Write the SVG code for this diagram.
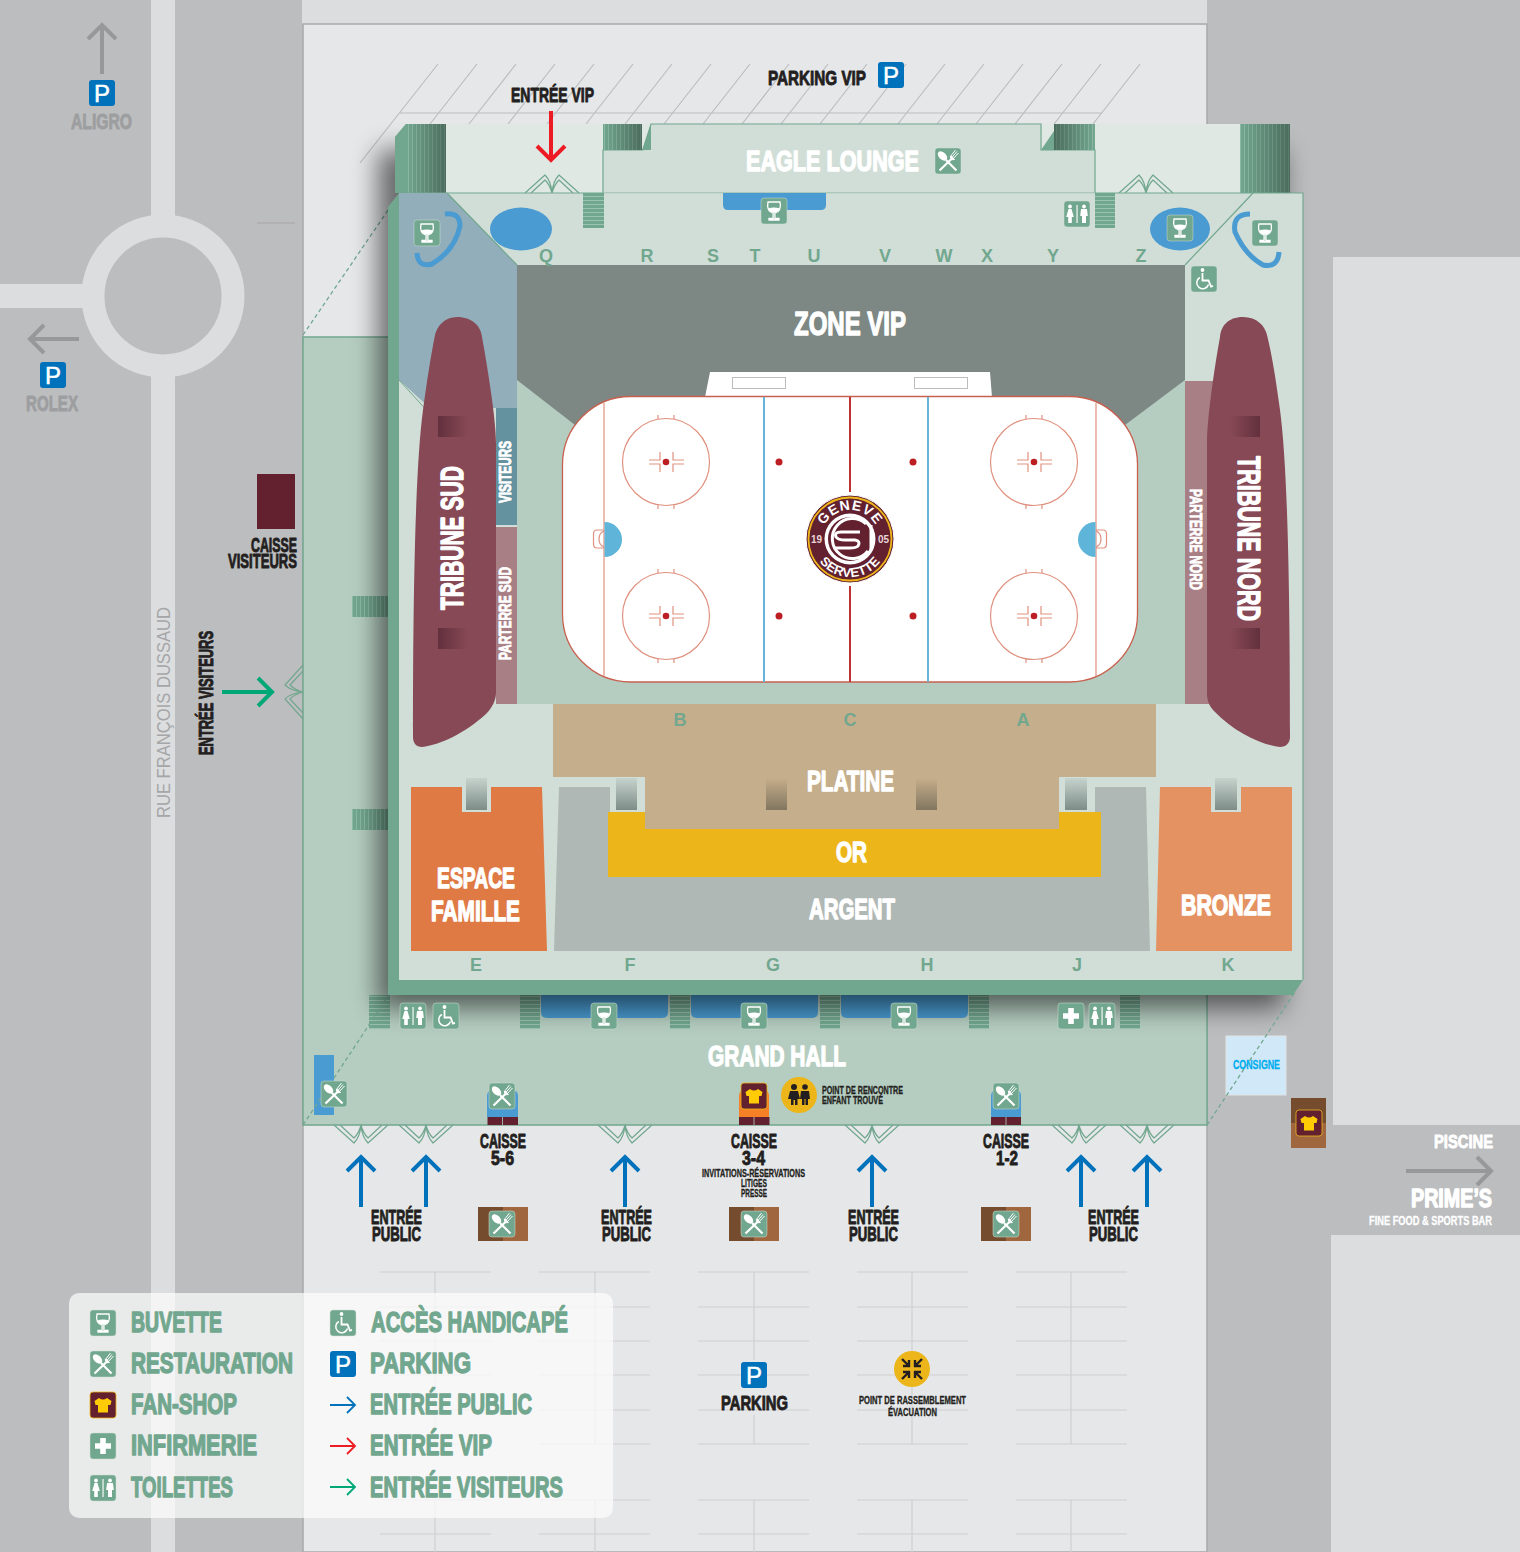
<svg xmlns="http://www.w3.org/2000/svg" width="1520" height="1552" viewBox="0 0 1520 1552">
<style>
.t{font-family:"Liberation Sans Narrow","Liberation Sans",Arial,sans-serif;font-weight:700;stroke-width:.9px;stroke-linejoin:round}
.t[font-size="26"],.t[font-size="29"],.t[font-size="30"],.t[font-size="31"],.t[font-size="33"]{stroke-width:1.4px}
.w{fill:#fff;stroke:#fff}
.k{fill:#231f20;stroke:#231f20}
.g{fill:#72a78f;stroke:#72a78f}
.y{fill:#9d9ea0;stroke:#9d9ea0}
.l{font-family:"Liberation Sans",Arial,sans-serif;font-weight:700;font-size:18px;fill:#72a78f}
.d{fill:none;stroke:#72a78f;stroke-width:1.2;stroke-linejoin:round}
.pk{fill:none;stroke:#cfd0d2;stroke-width:1.2}
.ar{fill:none;stroke-width:4}
.tick{fill:none;stroke:#e0917f;stroke-width:1.2}
.ib{fill:#72a78f;stroke:#d1ded7;stroke-width:.5}
</style>
<defs>
<filter id="sh" x="-10%" y="-10%" width="120%" height="120%"><feGaussianBlur stdDeviation="13"/></filter>
<linearGradient id="gd" x1="0" y1="0" x2="0" y2="1"><stop offset="0" stop-color="#c6d3cd"/><stop offset="1" stop-color="#7e8c88"/></linearGradient>
<linearGradient id="gp" x1="0" y1="0" x2="0" y2="1"><stop offset="0" stop-color="#c5ae8b"/><stop offset="1" stop-color="#827660"/></linearGradient>
<linearGradient id="gl" x1="0" y1="0" x2="1" y2="0"><stop offset="0" stop-color="#63303d"/><stop offset="1" stop-color="#874955"/></linearGradient>
<linearGradient id="gr" x1="0" y1="0" x2="1" y2="0"><stop offset="0" stop-color="#874955"/><stop offset="1" stop-color="#63303d"/></linearGradient>
<linearGradient id="gs" x1="0" y1="0" x2="1" y2="0"><stop offset="0" stop-color="#000" stop-opacity="0"/><stop offset="1" stop-color="#000" stop-opacity=".35"/></linearGradient>
<linearGradient id="gs2" x1="1" y1="0" x2="0" y2="0"><stop offset="0" stop-color="#000" stop-opacity="0"/><stop offset="1" stop-color="#000" stop-opacity=".35"/></linearGradient>
<pattern id="sv" width="4" height="4" patternUnits="userSpaceOnUse"><rect width="4" height="4" fill="#72a78f"/><rect width="1" height="4" fill="#8dbaa5"/></pattern>
<pattern id="sh2" width="4" height="4" patternUnits="userSpaceOnUse"><rect width="4" height="4" fill="#72a78f"/><rect width="4" height="1" fill="#9cc2b0"/></pattern>
<path id="door" d="M-27,0L-7,-18Q-1,-12 0,0Q1,-12 7,-18L27,0M-21,0L-7,-13Q-2,-8 0,0Q2,-8 7,-13L21,0"/>
<g id="i-b"><rect class="ib" x="-13" y="-13" width="26" height="26" rx="3"/><path d="M-6,-9H6C7.500,-2.500 5,1.500 .9,2V7.500H5V9H-5V7.500H-.9V2C-5,1.500 -7.500,-2.500 -6,-9Z" fill="none" stroke="#fff" stroke-width="1.300"/><path d="M-6,-2.500Q0,-4.500 6,-2.500Q5,1 0,1.800Q-5,1 -6,-2.500Z" fill="#fff"/></g>
<g id="i-r"><rect class="ib" x="-13" y="-13" width="26" height="26" rx="3"/><path d="M-8.500,9.500L5,-3.500M8.500,9.500L-2,-1" stroke="#fff" stroke-width="2.200" fill="none"/><ellipse cx="-5.500" cy="-5" rx="3.600" ry="5.600" transform="rotate(-45 -5.500 -5)" fill="#fff"/><path d="M3,-2.500L9,-9.500M4.500,-1.500L10.500,-8M2,-4L7.500,-11M6.500,-1.500Q4,-.5 2.500,-3L3,-5Z" stroke="#fff" stroke-width="1" fill="#fff"/></g>
<g id="i-f"><rect x="-13" y="-13" width="26" height="26" rx="3" fill="#63202f" stroke="#ecb61b" stroke-width=".8"/><path d="M-4,-7Q0,-4 4,-7L8.500,-4L7.500,0H5V7.500H-5V0H-7.500L-8.500,-4Z" fill="#ffcb05"/></g>
<g id="i-i"><rect class="ib" x="-13" y="-13" width="26" height="26" rx="3"/><path d="M-2.800,-8H2.800V-2.800H8V2.800H2.800V8H-2.800V2.800H-8V-2.800H-2.800Z" fill="#fff"/></g>
<g id="i-w"><rect class="ib" x="-13" y="-13" width="26" height="26" rx="3"/><path d="M-.5,-9H.6V9H-.5Z" fill="#fff"/><circle cx="-7" cy="-7.500" r="1.900" fill="#fff"/><path d="M-8.500,-5H-5.500L-3.200,3H-5.200V9H-8.800V3H-10.800Z" fill="#fff"/><circle cx="7" cy="-7.500" r="1.900" fill="#fff"/><path d="M4,-5H10L10.800,2H9V9H5V2H3.200Z" fill="#fff"/></g>
<g id="i-h"><rect class="ib" x="-13" y="-13" width="26" height="26" rx="3"/><circle cx="-1.500" cy="-9" r="1.900" fill="#fff"/><path d="M-1.500,-6V1.500H4.500L7,7.500L9,6.800" fill="none" stroke="#fff" stroke-width="1.800"/><path d="M-4.200,-1.500A6,6 0 1 0 4.500,5.500" fill="none" stroke="#fff" stroke-width="1.500"/></g>
<g id="i-p"><rect x="-13" y="-13" width="26" height="26" rx="3" fill="#0072bc"/><text x="0" y="8.500" text-anchor="middle" font-family="'Liberation Sans',Arial,sans-serif" font-size="24" fill="#fff" stroke="#fff" stroke-width=".5">P</text></g>
<path id="glogoT" d="M821,539A29,29 0 0 1 879,539"/>
<path id="glogoB" d="M812,539A38,38 0 0 0 888,539"/>
</defs>

<g id="site">
<rect width="1520" height="1552" fill="#bcbdbf"/>
<rect x="302" y="0" width="905" height="24" fill="#dcddde"/>
<rect x="303" y="24" width="904" height="1528" fill="#e6e7e9" stroke="#a8a9ab" stroke-width="1.500"/>
<rect x="151" y="0" width="24" height="1552" fill="#dcddde"/>
<rect x="0" y="284" width="90" height="24" fill="#dcddde"/>
<circle cx="163" cy="296" r="70" fill="#bcbdbf" stroke="#dcddde" stroke-width="23"/>
<rect x="1333" y="257" width="187" height="868" fill="#dcddde"/>
<rect x="1331" y="1235" width="189" height="317" fill="#dcddde"/>
<path d="M257,223H295" stroke="#aaa3a4" stroke-width="1"/>
<path id="pvip" d="M400,113H1101M438,64L360,163M477,64L430,124M516,64L469,124M555,64L508,124M594,64L547,124M633,64L586,124M672,64L625,124M711,64L664,124M750,64L703,124M789,64L742,124M828,64L781,124M867,64L820,124M906,64L859,124M945,64L898,124M984,64L937,124M1023,64L976,124M1062,64L1015,124M1101,64L1054,124M1140,64L1093,124" stroke="#bcbdbf" stroke-width="1.200" fill="none"/>
</g>

<g id="parking">
<path class="pk" d="M380,1272H491M380,1307H491M380,1341H491M380,1375H491M380,1410H491M380,1444H491M380,1500H491M380,1534H491M435,1272V1444M435,1500V1552"/>
<path class="pk" d="M539,1272H650M539,1307H650M539,1341H650M539,1375H650M539,1410H650M539,1444H650M539,1500H650M539,1534H650M595,1272V1444M595,1500V1552"/>
<path class="pk" d="M698,1272H809M698,1307H809M698,1341H809M698,1375H809M698,1410H809M698,1444H809M698,1500H809M698,1534H809M754,1272V1360M754,1415V1444M754,1500V1552"/>
<path class="pk" d="M857,1272H968M857,1307H968M857,1341H968M857,1375H968M857,1410H968M857,1444H968M857,1500H968M857,1534H968M912,1272V1444M912,1500V1552"/>
<path class="pk" d="M1016,1272H1127M1016,1307H1127M1016,1341H1127M1016,1375H1127M1016,1410H1127M1016,1444H1127M1016,1500H1127M1016,1534H1127M1071,1272V1444M1071,1500V1552"/>
</g>

<g id="hall">
<path d="M303,337H400V990H1207V1125H303Z" fill="#b5cdc0" stroke="#72a78f" stroke-width="1.500"/>
<rect x="314" y="1055" width="20" height="60" fill="#4a9bd1"/>
<path d="M487,1096Q487,1090 493,1090H512Q518,1090 518,1096V1117H487Z" fill="#4a9bd1"/>
<path d="M991,1096Q991,1090 997,1090H1016Q1021,1090 1021,1096V1117H991Z" fill="#4a9bd1"/>
<path d="M739,1096Q739,1090 745,1090H763Q769,1090 769,1096V1117H739Z" fill="#f58025"/>
<path d="M487.500,1117H518V1125H487.500Z M739,1117H769.500V1125H739Z M991,1117H1021V1125H991Z" fill="#63202f"/>
<path d="M502.500,1117V1125M754,1117V1125M1006,1117V1125" stroke="#b5cdc0" stroke-width=".8"/>
<path d="M541,995H668V1012Q668,1018 662,1018H547Q541,1018 541,1012ZM691,995H818V1012Q818,1018 812,1018H697Q691,1018 691,1012ZM841,995H968V1012Q968,1018 962,1018H847Q841,1018 841,1012Z" fill="#4a9bd1"/>
<path d="M369,995h21v34h-21zM520,995h20v34h-20zM670,995h20v34h-20zM820,995h20v34h-20zM969,995h20v34h-20zM1120,995h20v34h-20z" fill="url(#sh2)"/>
<path d="M352,596h36v21h-36zM352,809h36v21h-36z" fill="url(#sv)"/>
<path d="M303,335L397,197M303,1125L392,990" fill="none" stroke="#72a78f" stroke-width="1.300" stroke-dasharray="4 3"/>
<use href="#door" class="d" transform="translate(361,1125) scale(1,-1)"/>
<use href="#door" class="d" transform="translate(426,1125) scale(1,-1)"/>
<use href="#door" class="d" transform="translate(625,1125) scale(1,-1)"/>
<use href="#door" class="d" transform="translate(872,1125) scale(1,-1)"/>
<use href="#door" class="d" transform="translate(1079,1125) scale(1,-1)"/>
<use href="#door" class="d" transform="translate(1147,1125) scale(1,-1)"/>
<use href="#door" class="d" transform="translate(303,692) rotate(-90)"/>
<rect x="378" y="150" width="905" height="858" fill="#000" opacity=".55" filter="url(#sh)"/>
</g>

<g id="outside-kiosks">
<rect x="257" y="474" width="38" height="55" fill="#63202f"/>
<rect x="1226" y="1036" width="60" height="59" fill="#d0e8f8" stroke="#dfe3e4"/>
<path d="M1207,1125L1295,992" fill="none" stroke="#72a78f" stroke-width="1.300" stroke-dasharray="4 3"/>
<rect x="478" y="1207" width="25" height="34" fill="#754c2e"/><rect x="503" y="1207" width="25" height="34" fill="#a0673f"/>
<rect x="729" y="1207" width="25" height="34" fill="#754c2e"/><rect x="754" y="1207" width="25" height="34" fill="#a0673f"/>
<rect x="981" y="1207" width="25" height="34" fill="#754c2e"/><rect x="1006" y="1207" width="25" height="34" fill="#a0673f"/>
<rect x="1291" y="1098" width="35" height="25" fill="#754c2e"/><rect x="1291" y="1123" width="35" height="25" fill="#a0673f"/>
</g>

<g id="upper">
<rect x="446" y="124" width="794" height="69" fill="#dfe8e2"/>
<path d="M395,137L406,124H446V193H395Z" fill="url(#sv)"/>
<rect x="406" y="124" width="40" height="69" fill="url(#gs)"/>
<path d="M395,137L406,124V193H395Z" fill="#72a78f"/>
<rect x="1240" y="124" width="50" height="69" fill="url(#sv)"/><rect x="1240" y="124" width="50" height="69" fill="url(#gs)"/>
<path d="M603,193V150H643L651,124H1041V150H1095V193Z" fill="#d1ded7" stroke="#72a78f" stroke-width="1.200"/>
<rect x="603" y="124" width="39" height="26" fill="url(#sv)"/><rect x="603" y="124" width="39" height="26" fill="url(#gs)"/>
<path d="M642,150H651V124Z" fill="#72a78f"/>
<path d="M1041,150H1054V131Z" fill="#72a78f"/>
<rect x="1054" y="124" width="41" height="26" fill="url(#sv)"/><rect x="1054" y="124" width="41" height="26" fill="url(#gs2)"/>
<use href="#door" class="d" transform="translate(552,193)"/>
<use href="#door" class="d" transform="translate(1146,193)"/>
</g>

<g id="building">
<path d="M388,207L399,193V980H1303L1293,995H388Z" fill="#72a78f"/>
<rect x="399" y="193" width="904" height="787" fill="#d1ded7"/>
<path d="M603,193H1095" stroke="#b5cdc0" stroke-width="1"/>
<path d="M399,193H603M1095,193H1303V980" fill="none" stroke="#72a78f" stroke-width="1.200"/>
<path d="M1253,193L1185,265" stroke="#72a78f" stroke-width="1.200"/>
<path d="M399,193H447L517,265V408H430L399,380Z" fill="#92aeba"/>
<path d="M447,193L517,265" stroke="#72a78f" stroke-width="1.200"/>
<path d="M399,380L430,414" stroke="#72a78f" stroke-width="1"/>
<rect x="517" y="380" width="668" height="324" fill="#b5cdc0"/>
<path d="M517,265H1185V380L1125,425H575L517,380Z" fill="#7d8784"/>
<path d="M583,193h21v35h-21zM1095,193h20v35h-20z" fill="url(#sh2)"/>
<path d="M723,193H826V205Q826,210 821,210H728Q723,210 723,205Z" fill="#4a9bd1"/>
<ellipse cx="521" cy="229" rx="31" ry="21.500" fill="#4a9bd1"/>
<ellipse cx="1180" cy="229" rx="30" ry="21.500" fill="#4a9bd1"/>
<path d="M445,214Q460,212 460,226Q455,250 432,264Q418,268 417,253" fill="none" stroke="#4a9bd1" stroke-width="5"/>
<path d="M1250,214Q1232,214 1235,232Q1245,255 1263,265Q1278,268 1279,252" fill="none" stroke="#4a9bd1" stroke-width="5"/>
<rect x="496" y="408" width="21" height="117" fill="#64929f"/>
<rect x="496" y="527" width="21" height="177" fill="#a87f85"/>
<rect x="1185" y="381" width="35" height="323" fill="#a87f85"/>
<path id="tribune-sud" d="M457,317C472,317 481,326 482,337C488,370 496,420 496,443V693C496,700 492,708 486,714C465,733 440,745 422,747C416,747 413,743 413,737C413,600 415,470 423,410C427,380 431,355 435,335C437,326 445,317 457,317Z" fill="#864955"/>
<path id="tribune-nord" d="M1243,317C1228,317 1221,326 1220,337C1214,370 1207,420 1207,443V693C1207,700 1209,706 1214,711C1235,733 1262,745 1280,747C1286,747 1290,743 1290,737C1290,600 1288,470 1280,410C1276,380 1272,355 1267,335C1265,326 1257,317 1243,317Z" fill="#864955"/>
<rect x="438" y="416" width="30" height="21" fill="url(#gl)"/><rect x="438" y="628" width="30" height="21" fill="url(#gl)"/>
<rect x="1230" y="416" width="30" height="21" fill="url(#gr)"/><rect x="1230" y="628" width="30" height="21" fill="url(#gr)"/>
<path id="platine" d="M553,704H1156V777H1059V829H645V777H553Z" fill="#c5ae8b"/>
<path id="or" d="M608,812H645V829H1059V812H1101V877H608Z" fill="#ecb61b"/>
<path id="argent" d="M559,787H610V812H608V877H1101V812H1095V787H1146L1150,951H554Z" fill="#b0b8b5"/>
<path id="famille" d="M411,787H462V812H491V787H542L547,951H411Z" fill="#e07a44"/>
<path id="bronze" d="M1160,787H1211V812H1241V787H1292V951H1156Z" fill="#e59262"/>
<rect x="466" y="778" width="21" height="32" fill="url(#gd)"/>
<rect x="616" y="778" width="21" height="32" fill="url(#gd)"/>
<rect x="1065" y="778" width="22" height="32" fill="url(#gd)"/>
<rect x="1215" y="778" width="22" height="32" fill="url(#gd)"/>
<rect x="766" y="778" width="21" height="32" fill="url(#gp)"/>
<rect x="916" y="778" width="21" height="32" fill="url(#gp)"/>
</g>

<g id="rink">
<path d="M710,372H990L992,397H705Z" fill="#fff"/>
<rect x="732.500" y="377.500" width="53" height="11" fill="#fff" stroke="#bcbdbf"/>
<rect x="914.500" y="377.500" width="53" height="11" fill="#fff" stroke="#bcbdbf"/>
<rect x="562.500" y="396.500" width="575" height="285.500" rx="68" fill="#fff" stroke="#c8604f" stroke-width="1.300"/>
<path d="M604,403V676M1096,403V676" stroke="#e0917f" stroke-width="1.200"/>
<path d="M764,397V682M928,397V682" stroke="#65b5da" stroke-width="2"/>
<path d="M850,397V492M850,586V682" stroke="#bb3333" stroke-width="2"/>
<path d="M604.500,522A17.500,17.500 0 0 1 604.500,557Z" fill="#5fb4d9"/>
<path d="M1095.500,522A17.500,17.500 0 0 0 1095.500,557Z" fill="#5fb4d9"/>
<path class="tick" d="M604,530H597Q593.500,530 593.500,534V544Q593.500,548 597,548H604M604,531Q599,533 599,539Q599,545 604,547M1096,530H1103Q1106.500,530 1106.500,534V544Q1106.500,548 1103,548H1096M1096,531Q1101,533 1101,539Q1101,545 1096,547"/>
<g id="circle-tl"><circle cx="666" cy="462" r="43.500" class="tick"/><path class="tick" d="M658,415V419M674,415V419M658,505V509M674,505V509M649,460H660V452M649,464H660V472M684,460H673V452M684,464H673V472"/><circle cx="666" cy="462" r="3.300" fill="#bd1e24"/></g>
<g id="circle-bl"><circle cx="666" cy="616" r="43.500" class="tick"/><path class="tick" d="M658,569V573M674,569V573M658,659V663M674,659V663M649,614H660V606M649,618H660V626M684,614H673V606M684,618H673V626"/><circle cx="666" cy="616" r="3.300" fill="#bd1e24"/></g>
<g id="circle-tr"><circle cx="1034" cy="462" r="43.500" class="tick"/><path class="tick" d="M1026,415V419M1042,415V419M1026,505V509M1042,505V509M1017,460H1028V452M1017,464H1028V472M1052,460H1041V452M1052,464H1041V472"/><circle cx="1034" cy="462" r="3.300" fill="#bd1e24"/></g>
<g id="circle-br"><circle cx="1034" cy="616" r="43.500" class="tick"/><path class="tick" d="M1026,569V573M1042,569V573M1026,659V663M1042,659V663M1017,614H1028V606M1017,618H1028V626M1052,614H1041V606M1052,618H1041V626"/><circle cx="1034" cy="616" r="3.300" fill="#bd1e24"/></g>
<circle cx="779" cy="462" r="3.500" fill="#bd1e24"/><circle cx="779" cy="616" r="3.500" fill="#bd1e24"/><circle cx="913" cy="462" r="3.500" fill="#bd1e24"/><circle cx="913" cy="616" r="3.500" fill="#bd1e24"/>
<g id="logo">
<circle cx="850" cy="539" r="44" fill="#63202f" stroke="#fff" stroke-width="1"/>
<circle cx="850" cy="539" r="41.500" fill="none" stroke="#ecb61b" stroke-width="1.800"/>
<circle cx="850" cy="539" r="25.500" fill="#fff"/>
<circle cx="850" cy="539" r="22" fill="#63202f"/>
<path d="M866,524A20,20 0 1 0 868,551" fill="none" stroke="#fff" stroke-width="3"/>
<path d="M860,532H841Q834,532 836,537Q838,540 845,540H855Q861,541 858,546Q856,548 850,548H834" fill="none" stroke="#fff" stroke-width="3"/>
<path d="M871,525V551" stroke="#fff" stroke-width="3"/>
<text font-family="'Liberation Sans',sans-serif" font-weight="700" font-size="14" fill="#fff" text-anchor="middle" letter-spacing=".8"><textPath href="#glogoT" startOffset="50%">GENEVE</textPath></text>
<text font-family="'Liberation Sans',sans-serif" font-weight="700" font-size="13" fill="#fff" text-anchor="middle" letter-spacing=".3"><textPath href="#glogoB" startOffset="50%">SERVETTE</textPath></text>
<text x="816.500" y="543" font-family="'Liberation Sans',sans-serif" font-weight="700" font-size="10" fill="#e7d6d9" text-anchor="middle">19</text>
<text x="883.500" y="543" font-family="'Liberation Sans',sans-serif" font-weight="700" font-size="10" fill="#e7d6d9" text-anchor="middle">05</text>
</g>
</g>

<g id="arrows">
<path class="ar" stroke="#0072bc" d="M361,1207V1158M347,1171L361,1157L375,1171M426,1207V1158M412,1171L426,1157L440,1171M625,1207V1158M611,1171L625,1157L639,1171M872,1207V1158M858,1171L872,1157L886,1171M1081,1207V1158M1067,1171L1081,1157L1095,1171M1147,1207V1158M1133,1171L1147,1157L1161,1171"/>
<path class="ar" stroke="#ed1c24" d="M551,111V160M537,146L551,160L565,146"/>
<path class="ar" stroke="#00a878" d="M222,692H272M258,678L272,692L258,706"/>
<path class="ar" stroke="#97989a" d="M102,74V25M88,39L102,25L116,39M79,339H30M44,325L30,339L44,353M1406,1171H1491M1477,1157L1491,1171L1477,1185"/>
</g>

<g id="markers">
<circle cx="799" cy="1095" r="18" fill="#ecb61b"/>
<g fill="#231f20"><circle cx="794" cy="1087" r="3"/><path d="M790,1091H798L800,1099H797.500V1105H795V1100H793.500V1105H791V1099H788Z"/><circle cx="805" cy="1087" r="2.800"/><path d="M801,1091H809L810,1099H808V1105H805.500V1099H804.500V1105H802V1099H800Z"/></g>
<circle cx="912" cy="1369" r="18" fill="#ecb61b"/>
<path d="M902,1359L909,1366M909,1360V1366H903M922,1359L915,1366M915,1360V1366H921M902,1379L909,1372M909,1378V1372H903M922,1379L915,1372M915,1378V1372H921" stroke="#231f20" stroke-width="2.400" fill="none"/>
<use href="#i-b" x="427" y="233"/><use href="#i-b" x="774" y="211"/><use href="#i-b" x="1180" y="228"/><use href="#i-b" x="1265" y="233"/>
<use href="#i-b" x="604" y="1016"/><use href="#i-b" x="754" y="1016"/><use href="#i-b" x="904" y="1016"/>
<use href="#i-r" x="948" y="161"/><use href="#i-r" x="334" y="1094"/><use href="#i-r" x="502" y="1096"/><use href="#i-r" x="1006" y="1096"/>
<use href="#i-r" x="502" y="1224"/><use href="#i-r" x="754" y="1224"/><use href="#i-r" x="1006" y="1224"/>
<use href="#i-f" x="754" y="1096"/><use href="#i-f" x="1309" y="1123"/>
<use href="#i-i" x="1071" y="1016"/>
<use href="#i-w" x="1077" y="214"/><use href="#i-w" x="413" y="1016"/><use href="#i-w" x="1102" y="1016"/>
<use href="#i-h" x="1204" y="279"/><use href="#i-h" x="446" y="1016"/>
<use href="#i-p" x="102" y="93"/><use href="#i-p" x="53" y="375"/><use href="#i-p" x="891" y="75"/><use href="#i-p" x="754" y="1375"/>
</g>

<g id="labels">
<g class="l">
<text x="546" y="262" text-anchor="middle">Q</text><text x="647" y="262" text-anchor="middle">R</text><text x="713" y="262" text-anchor="middle">S</text><text x="755" y="262" text-anchor="middle">T</text><text x="814" y="262" text-anchor="middle">U</text><text x="885" y="262" text-anchor="middle">V</text><text x="944" y="262" text-anchor="middle">W</text><text x="987" y="262" text-anchor="middle">X</text><text x="1053" y="262" text-anchor="middle">Y</text><text x="1141" y="262" text-anchor="middle">Z</text>
<text x="680" y="726" text-anchor="middle">B</text><text x="850" y="726" text-anchor="middle">C</text><text x="1023" y="726" text-anchor="middle">A</text>
<text x="476" y="971" text-anchor="middle">E</text><text x="630" y="971" text-anchor="middle">F</text><text x="773" y="971" text-anchor="middle">G</text><text x="927" y="971" text-anchor="middle">H</text><text x="1077" y="971" text-anchor="middle">J</text><text x="1228" y="971" text-anchor="middle">K</text>
</g>
<text class="t k" x="511" y="102" font-size="20" textLength="83" lengthAdjust="spacingAndGlyphs">ENTRÉE VIP</text>
<text class="t k" x="768" y="85" font-size="20" textLength="98" lengthAdjust="spacingAndGlyphs">PARKING VIP</text>
<text class="t w" x="746" y="171" font-size="30" textLength="173" lengthAdjust="spacingAndGlyphs">EAGLE LOUNGE</text>
<text class="t w" x="794" y="335" font-size="33" textLength="112" lengthAdjust="spacingAndGlyphs">ZONE VIP</text>
<text class="t w" x="807" y="791" font-size="30" textLength="87" lengthAdjust="spacingAndGlyphs">PLATINE</text>
<text class="t w" x="836" y="862" font-size="30" textLength="31" lengthAdjust="spacingAndGlyphs">OR</text>
<text class="t w" x="809" y="919" font-size="30" textLength="86" lengthAdjust="spacingAndGlyphs">ARGENT</text>
<text class="t w" x="437" y="888" font-size="30" textLength="78" lengthAdjust="spacingAndGlyphs">ESPACE</text>
<text class="t w" x="431" y="921" font-size="30" textLength="89" lengthAdjust="spacingAndGlyphs">FAMILLE</text>
<text class="t w" x="1181" y="915" font-size="30" textLength="90" lengthAdjust="spacingAndGlyphs">BRONZE</text>
<text class="t w" x="708" y="1066" font-size="29" textLength="138" lengthAdjust="spacingAndGlyphs">GRAND HALL</text>
<text class="t w" font-size="31" textLength="144" lengthAdjust="spacingAndGlyphs" transform="translate(463,610) rotate(-90)">TRIBUNE SUD</text>
<text class="t w" font-size="31" textLength="165" lengthAdjust="spacingAndGlyphs" transform="translate(1238,456) rotate(90)">TRIBUNE NORD</text>
<text class="t w" font-size="17" textLength="62" lengthAdjust="spacingAndGlyphs" transform="translate(511,503) rotate(-90)">VISITEURS</text>
<text class="t w" font-size="17" textLength="93" lengthAdjust="spacingAndGlyphs" transform="translate(511,660) rotate(-90)">PARTERRE SUD</text>
<text class="t w" font-size="17" textLength="101" lengthAdjust="spacingAndGlyphs" transform="translate(1190,489) rotate(90)">PARTERRE NORD</text>
<text class="t k" x="251" y="552" font-size="20" textLength="46" lengthAdjust="spacingAndGlyphs">CAISSE</text>
<text class="t k" x="228" y="568" font-size="20" textLength="69" lengthAdjust="spacingAndGlyphs">VISITEURS</text>
<text class="t k" font-size="20" textLength="124" lengthAdjust="spacingAndGlyphs" transform="translate(213,755) rotate(-90)">ENTRÉE VISITEURS</text>
<text font-family="'Liberation Sans',sans-serif" font-size="19" fill="#a5a6a8" textLength="211" lengthAdjust="spacingAndGlyphs" transform="translate(170,818) rotate(-90)">RUE FRANÇOIS DUSSAUD</text>
<text class="t y" x="71" y="129" font-size="22" textLength="61" lengthAdjust="spacingAndGlyphs">ALIGRO</text>
<text class="t y" x="26" y="411" font-size="22" textLength="52" lengthAdjust="spacingAndGlyphs">ROLEX</text>
<text class="t k" x="480" y="1148" font-size="20" textLength="46" lengthAdjust="spacingAndGlyphs">CAISSE</text>
<text class="t k" x="491" y="1165" font-size="20" textLength="23" lengthAdjust="spacingAndGlyphs">5-6</text>
<text class="t k" x="731" y="1148" font-size="20" textLength="46" lengthAdjust="spacingAndGlyphs">CAISSE</text>
<text class="t k" x="742" y="1165" font-size="20" textLength="23" lengthAdjust="spacingAndGlyphs">3-4</text>
<text class="t k" x="702" y="1177" font-size="10" textLength="103" lengthAdjust="spacingAndGlyphs" style="stroke-width:.3px">INVITATIONS-RÉSERVATIONS</text>
<text class="t k" x="741" y="1187" font-size="10" textLength="26" lengthAdjust="spacingAndGlyphs" style="stroke-width:.3px">LITIGES</text>
<text class="t k" x="741" y="1197" font-size="10" textLength="26" lengthAdjust="spacingAndGlyphs" style="stroke-width:.3px">PRESSE</text>
<text class="t k" x="983" y="1148" font-size="20" textLength="46" lengthAdjust="spacingAndGlyphs">CAISSE</text>
<text class="t k" x="996" y="1165" font-size="20" textLength="22" lengthAdjust="spacingAndGlyphs">1-2</text>
<text class="t k" x="371" y="1224" font-size="20" textLength="51" lengthAdjust="spacingAndGlyphs">ENTRÉE</text>
<text class="t k" x="372" y="1241" font-size="20" textLength="49" lengthAdjust="spacingAndGlyphs">PUBLIC</text>
<text class="t k" x="601" y="1224" font-size="20" textLength="51" lengthAdjust="spacingAndGlyphs">ENTRÉE</text>
<text class="t k" x="602" y="1241" font-size="20" textLength="49" lengthAdjust="spacingAndGlyphs">PUBLIC</text>
<text class="t k" x="848" y="1224" font-size="20" textLength="51" lengthAdjust="spacingAndGlyphs">ENTRÉE</text>
<text class="t k" x="849" y="1241" font-size="20" textLength="49" lengthAdjust="spacingAndGlyphs">PUBLIC</text>
<text class="t k" x="1088" y="1224" font-size="20" textLength="51" lengthAdjust="spacingAndGlyphs">ENTRÉE</text>
<text class="t k" x="1089" y="1241" font-size="20" textLength="49" lengthAdjust="spacingAndGlyphs">PUBLIC</text>
<text class="t k" x="822" y="1094" font-size="10" textLength="81" lengthAdjust="spacingAndGlyphs" style="stroke-width:.3px">POINT DE RENCONTRE</text>
<text class="t k" x="822" y="1104" font-size="10" textLength="61" lengthAdjust="spacingAndGlyphs" style="stroke-width:.3px">ENFANT TROUVÉ</text>
<text class="t" x="1233" y="1069" font-size="13" textLength="47" lengthAdjust="spacingAndGlyphs" style="fill:#00aeef;stroke:#00aeef;stroke-width:.3px">CONSIGNE</text>
<text class="t w" x="1434" y="1148" font-size="19" textLength="59" lengthAdjust="spacingAndGlyphs">PISCINE</text>
<text class="t w" x="1411" y="1207" font-size="26" textLength="81" lengthAdjust="spacingAndGlyphs">PRIME’S</text>
<text class="t w" x="1369" y="1225" font-size="12" textLength="123" lengthAdjust="spacingAndGlyphs" style="stroke-width:.3px">FINE FOOD &amp; SPORTS BAR</text>
<text class="t k" x="721" y="1410" font-size="20" textLength="67" lengthAdjust="spacingAndGlyphs">PARKING</text>
<text class="t k" x="859" y="1404" font-size="10" textLength="107" lengthAdjust="spacingAndGlyphs" style="stroke-width:.3px">POINT DE RASSEMBLEMENT</text>
<text class="t k" x="888" y="1416" font-size="10" textLength="49" lengthAdjust="spacingAndGlyphs" style="stroke-width:.3px">ÉVACUATION</text>
</g>

<g id="legend">
<rect x="69" y="1293" width="544" height="225" rx="10" fill="#fff" opacity=".68"/>
<use href="#i-b" x="103" y="1323"/><use href="#i-r" x="103" y="1364"/><use href="#i-f" x="103" y="1405"/><use href="#i-i" x="103" y="1446"/><use href="#i-w" x="103" y="1488"/>
<use href="#i-h" x="343" y="1323"/><use href="#i-p" x="343" y="1364"/>
<path d="M330,1405H355M347,1397L355,1405L347,1413" fill="none" stroke="#0072bc" stroke-width="1.800"/>
<path d="M330,1446H355M347,1438L355,1446L347,1454" fill="none" stroke="#ed1c24" stroke-width="1.800"/>
<path d="M330,1487H355M347,1479L355,1487L347,1495" fill="none" stroke="#00a878" stroke-width="1.800"/>
<text class="t g" x="131" y="1332" font-size="29" textLength="91" lengthAdjust="spacingAndGlyphs">BUVETTE</text>
<text class="t g" x="131" y="1373" font-size="29" textLength="162" lengthAdjust="spacingAndGlyphs">RESTAURATION</text>
<text class="t g" x="131" y="1414" font-size="29" textLength="106" lengthAdjust="spacingAndGlyphs">FAN-SHOP</text>
<text class="t g" x="131" y="1455" font-size="29" textLength="126" lengthAdjust="spacingAndGlyphs">INFIRMERIE</text>
<text class="t g" x="131" y="1497" font-size="29" textLength="102" lengthAdjust="spacingAndGlyphs">TOILETTES</text>
<text class="t g" x="371" y="1332" font-size="29" textLength="197" lengthAdjust="spacingAndGlyphs">ACCÈS HANDICAPÉ</text>
<text class="t g" x="370" y="1373" font-size="29" textLength="101" lengthAdjust="spacingAndGlyphs">PARKING</text>
<text class="t g" x="370" y="1414" font-size="29" textLength="162" lengthAdjust="spacingAndGlyphs">ENTRÉE PUBLIC</text>
<text class="t g" x="370" y="1455" font-size="29" textLength="122" lengthAdjust="spacingAndGlyphs">ENTRÉE VIP</text>
<text class="t g" x="370" y="1497" font-size="29" textLength="193" lengthAdjust="spacingAndGlyphs">ENTRÉE VISITEURS</text>
</g>
</svg>
